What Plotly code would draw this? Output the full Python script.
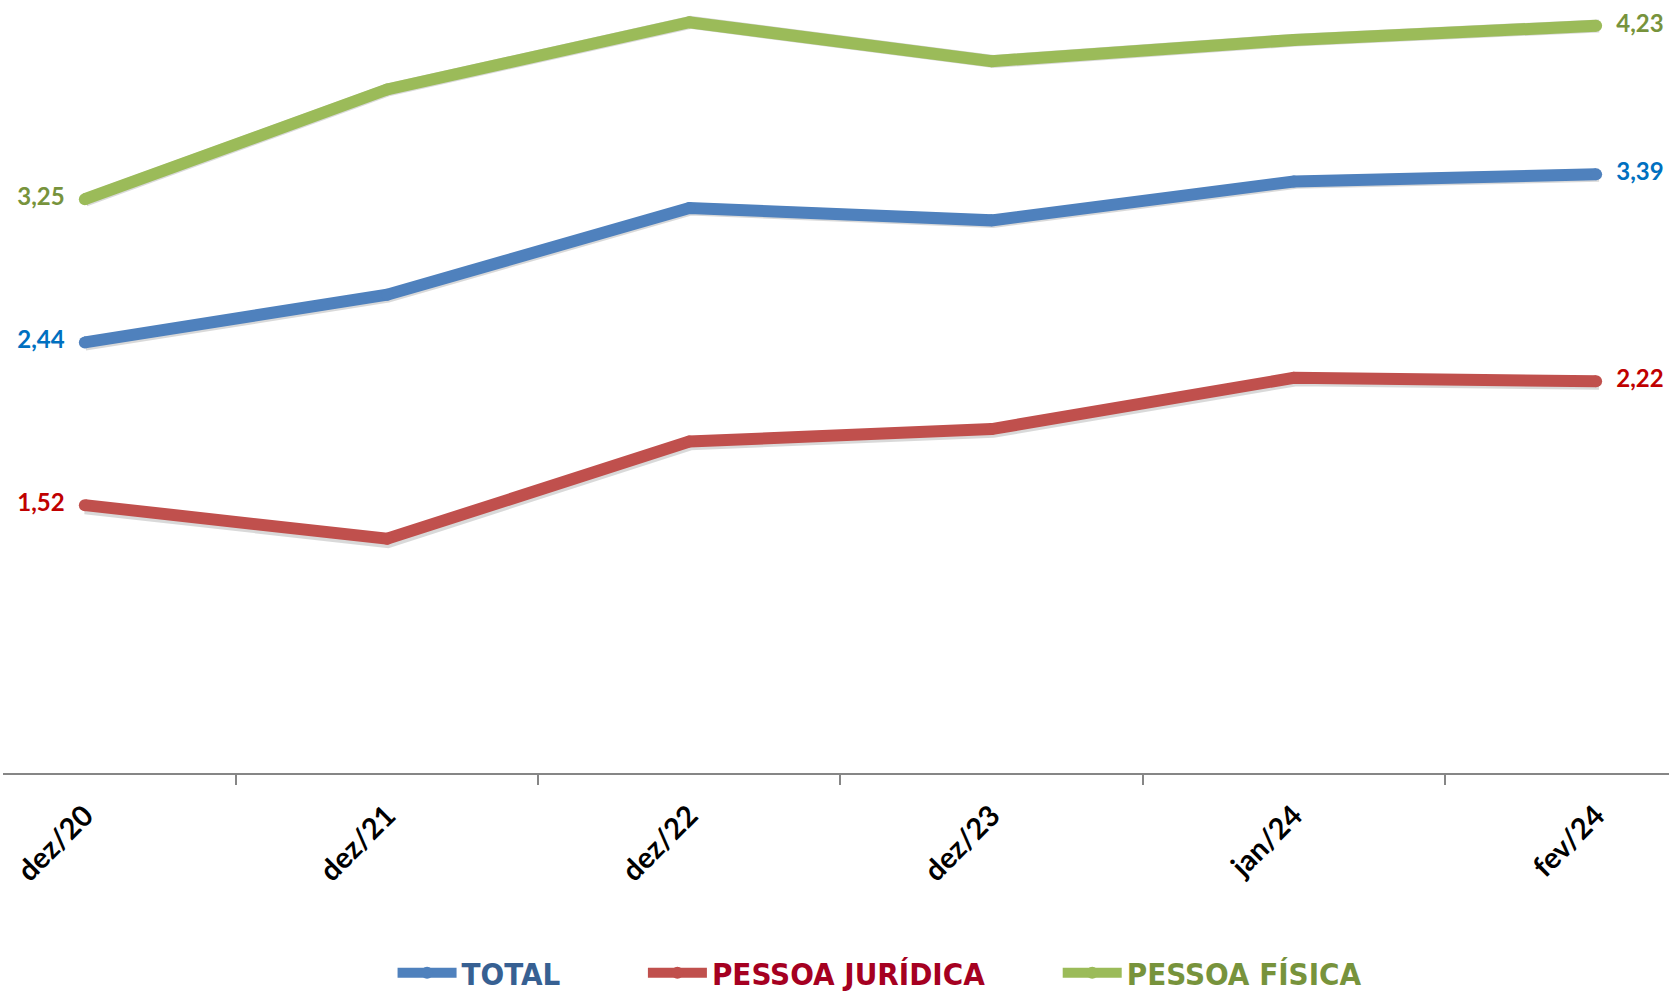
import plotly.graph_objects as go

categories = ["dez/20", "dez/21", "dez/22", "dez/23", "jan/24", "fev/24"]
total = [2.44, 2.71, 3.20, 3.13, 3.35, 3.39]
pessoa_juridica = [1.52, 1.33, 1.88, 1.95, 2.24, 2.22]
pessoa_fisica = [3.25, 3.87, 4.25, 4.03, 4.15, 4.23]

series = [
    ("TOTAL", total, "#4F81BD", "#0070C0", "#376092", 8),
    ("PESSOA JURÍDICA", pessoa_juridica, "#C0504D", "#C00000", "#A50021", 7),
    ("PESSOA FÍSICA", pessoa_fisica, "#9BBB59", "#77933C", "#77933C", 0),
]

W, H = 1669, 992
plot_h = 774
px_per_unit = 177.8
px_per_cat = 302.8
x0_px = 82.0

y_top = plot_h / px_per_unit
x_lo = -x0_px / px_per_cat
x_hi = (W - x0_px) / px_per_cat

# shadow offsets (pixels)
sdx, sdy = 3, 4

fig = go.Figure()

def fmt(v):
    return f"{v:.2f}".replace(".", ",")

# shadows (drawn on base axes, below)
for name, vals, lc, tc, lgc, pad in series:
    fig.add_trace(go.Scatter(
        x=categories, y=vals, mode="lines+markers",
        line=dict(color="rgba(0,0,0,0.15)", width=13),
        marker=dict(size=13, color="rgba(0,0,0,0)"),
        xaxis="x", yaxis="y", showlegend=False, hoverinfo="skip",
    ))

for name, vals, lc, tc, lgc, pad in series:
    n = len(vals)
    texts = ["" for _ in vals]
    texts[0] = fmt(vals[0]) + "\u00a0\u00a0"
    texts[-1] = "\u00a0\u00a0" + fmt(vals[-1])
    pos = ["middle left"] + ["middle center"] * (n - 2) + ["middle right"]
    fig.add_trace(go.Scatter(
        x=categories, y=vals, mode="lines+markers+text",
        name=f"<span style='color:{lgc}'>{name}</span>" + "\u00a0" * pad,
        line=dict(color=lc, width=12),
        marker=dict(size=12, color=lc),
        text=texts, textposition=pos,
        textfont=dict(family="Lato", size=24, color=tc, weight="bold"),
        cliponaxis=False,
        xaxis="x2", yaxis="y2",
    ))

fig.update_layout(
    width=W, height=H,
    margin=dict(l=0, r=0, t=0, b=H - plot_h, autoexpand=False),
    paper_bgcolor="white", plot_bgcolor="white",
    showlegend=True,
    legend=dict(
        orientation="h", x=0.527, xanchor="center", y=(plot_h - 973) / plot_h, yanchor="middle",
        font=dict(family="Liberation Sans Narrow, DejaVu Sans Condensed, Arial Narrow", size=31, weight="bold"),
        itemwidth=59, traceorder="normal",
    ),
    # shadow axes (hidden)
    xaxis=dict(
        type="category", domain=[sdx / W, 1], range=[x_lo, x_lo + (W - sdx) / px_per_cat],
        visible=False, categoryorder="array", categoryarray=categories,
    ),
    yaxis=dict(
        domain=[0, 1 - sdy / plot_h], range=[sdy / px_per_unit, y_top], visible=False,
    ),
    # main axes
    xaxis2=dict(
        type="category", overlaying="x", domain=[0, 1], range=[x_lo, x_hi],
        anchor="free", position=0, categoryorder="array", categoryarray=categories,
        showline=True, linecolor="#868686", linewidth=2,
        ticks="outside", tickson="boundaries", ticklen=10, tickcolor="#868686", tickwidth=1.5,
        tickangle=-45, ticklabelstandoff=12,
        tickfont=dict(family="Lato", size=29, color="black", weight="bold"),
        showgrid=False, zeroline=False,
    ),
    yaxis2=dict(
        overlaying="y", domain=[0, 1], range=[0, y_top], visible=False,
        showgrid=False, zeroline=False,
    ),
)

fig.write_html(
    "out.html",
    config={"displayModeBar": False},
    post_script="document.body.style.margin='0';document.body.style.overflow='hidden';",
)
